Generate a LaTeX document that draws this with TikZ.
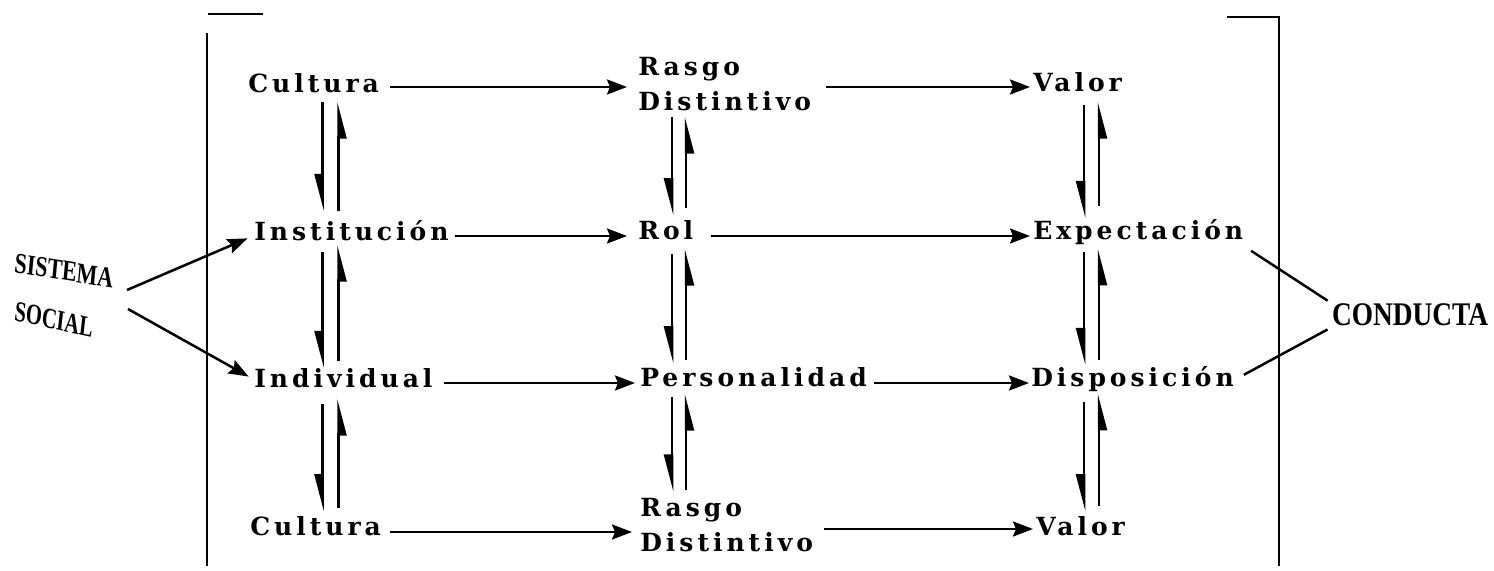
\documentclass[tikz,border=0pt]{standalone}
\usepackage{fontspec}
\setmainfont{Liberation Serif}
\newfontfamily\spacedfont[LetterSpace=16]{DejaVu Serif}
\usetikzlibrary{arrows.meta}
\begin{document}
\begin{tikzpicture}[x=0.5pt,y=-0.5pt,
  line width=1.25pt,
  term/.style={font=\spacedfont\bfseries\fontsize{12.5}{17.5}\selectfont, inner sep=0pt, anchor=base west},
  pairterm/.style={font=\spacedfont\bfseries\fontsize{12.5}{17.5}\selectfont, inner sep=0pt, anchor=west, align=left},
  side/.style={font=\bfseries\fontsize{14.5}{18}\selectfont, inner sep=0pt, anchor=base west},
  flow/.style={-{Stealth[length=10pt,width=7.5pt,inset=1.5pt]}},
  link/.style={-{Triangle[harpoon,swap,length=16pt,width=8pt]}}
]
\useasboundingbox (0,0) rectangle (1494,571);

% brackets around the system
\draw (208,14) -- (263,14);
\draw (207,33) -- (207,566);
\draw (1227,17) -- (1279,17) -- (1279,566);

% terms
\node[term] (c1) at (247,93) {Cultura};
\node[pairterm] (r1) at (637,84.5) {Rasgo\\Distintivo};
\node[term] (v1) at (1032,92) {Valor};
\node[term] (i1) at (253,241) {Institución};
\node[term] (rl) at (637,240) {Rol};
\node[term] (e1) at (1032,240) {Expectación};
\node[term] (n1) at (253,388) {Individual};
\node[term] (p1) at (639,387) {Personalidad};
\node[term] (d1) at (1030,387) {Disposición};
\node[term] (c4) at (249,536) {Cultura};
\node[pairterm] (r4) at (639,525.5) {Rasgo\\Distintivo};
\node[term] (v4) at (1035,535) {Valor};

% side labels
\node[side, xscale=0.76, rotate=-7] (sis) at (13,272) {SISTEMA};
\node[side, xscale=0.71, rotate=-9] (soc) at (13,320) {SOCIAL};
\node[side, font=\bfseries\fontsize{16.5}{18}\selectfont, xscale=0.83] (cond) at (1331,326) {CONDUCTA};

% row levels and column positions
\coordinate (y1) at (0,87);
\coordinate (y2) at (0,236);
\coordinate (y3) at (0,383);
\coordinate (y4) at (0,532);
\coordinate (y4b) at (0,529);
\coordinate (k1d) at (322.5,0);
\coordinate (k1u) at (338.5,0);
\coordinate (k2d) at (672,0);
\coordinate (k2u) at (686,0);
\coordinate (k3d) at (1084,0);
\coordinate (k3u) at (1099,0);
\coordinate (sa) at (127,290);
\coordinate (sb) at (128,309);

% horizontal flows
\draw[flow, shorten <=5pt, shorten >=5pt] (c1.east |- y1) -- (r1.west |- y1);
\draw[flow, shorten <=7pt, shorten >=1pt] (r1.east |- y1) -- (v1.west |- y1);
\draw[flow, shorten <=2.5pt, shorten >=5pt] (i1.east |- y2) -- (rl.west |- y2);
\draw[flow, shorten <=8.5pt, shorten >=1pt] (rl.east |- y2) -- (e1.west |- y2);
\draw[flow, shorten <=5pt, shorten >=2pt] (n1.east |- y3) -- (p1.west |- y3);
\draw[flow, shorten <=3pt, shorten >=0.5pt] (p1.east |- y3) -- (d1.west |- y3);
\draw[flow, shorten <=4pt, shorten >=3.5pt] (c4.east |- y4) -- (r4.west |- y4);
\draw[flow, shorten <=5pt, shorten >=1pt] (r4.east |- y4b) -- (v4.west |- y4b);

% vertical links, first column
\draw[link, shorten <=3.5pt, shorten >=4.5pt] (c1.south -| k1d) -- (i1.north -| k1d);
\draw[link, shorten <=4.5pt, shorten >=3.5pt] (i1.north -| k1u) -- (c1.south -| k1u);
\draw[link, shorten <=4.5pt, shorten >=0pt] (i1.south -| k1d) -- (n1.north -| k1d);
\draw[link, shorten <=3.3pt, shorten >=1pt] (n1.north -| k1u) -- (i1.south -| k1u);
\draw[link, shorten <=7pt, shorten >=2.3pt] (n1.south -| k1d) -- (c4.north -| k1d);
\draw[link, shorten <=3.8pt, shorten >=4.5pt] (c4.north -| k1u) -- (n1.south -| k1u);

% vertical links, second column
\draw[link, shorten <=2pt, shorten >=2.3pt] (r1.south -| k2d) -- (rl.north -| k2d);
\draw[link, shorten <=5.8pt, shorten >=2pt] (rl.north -| k2u) -- (r1.south -| k2u);
\draw[link, shorten <=6pt, shorten >=1.8pt] (rl.south -| k2d) -- (p1.north -| k2d);
\draw[link, shorten <=3.3pt, shorten >=3.5pt] (p1.north -| k2u) -- (rl.south -| k2u);
\draw[link, shorten <=4pt, shorten >=3pt] (p1.south -| k2d) -- (r4.north -| k2d);
\draw[link, shorten <=3.5pt, shorten >=2.5pt] (r4.north -| k2u) -- (p1.south -| k2u);

% vertical links, third column
\draw[link, shorten <=5.5pt, shorten >=0.5pt] (v1.south -| k3d) -- (e1.north -| k3d);
\draw[link, shorten <=6.5pt, shorten >=4pt] (e1.north -| k3u) -- (v1.south -| k3u);
\draw[link, shorten <=3pt, shorten >=0.5pt] (e1.south -| k3d) -- (d1.north -| k3d);
\draw[link, shorten <=3pt, shorten >=1pt] (d1.north -| k3u) -- (e1.south -| k3u);
\draw[link, shorten <=4.5pt, shorten >=1.8pt] (d1.south -| k3d) -- (v4.north -| k3d);
\draw[link, shorten <=4.3pt, shorten >=0pt] (v4.north -| k3u) -- (d1.south -| k3u);

% social system entering, behaviour leaving
\draw[flow, shorten >=3pt] (sa) -- ([yshift=2.5pt]i1.base west);
\draw[flow, shorten >=2.5pt] (sb) -- ([yshift=4.5pt]n1.base west);
\draw[shorten <=4pt, shorten >=2pt] (e1.south east) -- (cond.north west);
\draw[shorten <=5pt, shorten >=2pt] (d1.east) -- (cond.south west);
\end{tikzpicture}
\end{document}
